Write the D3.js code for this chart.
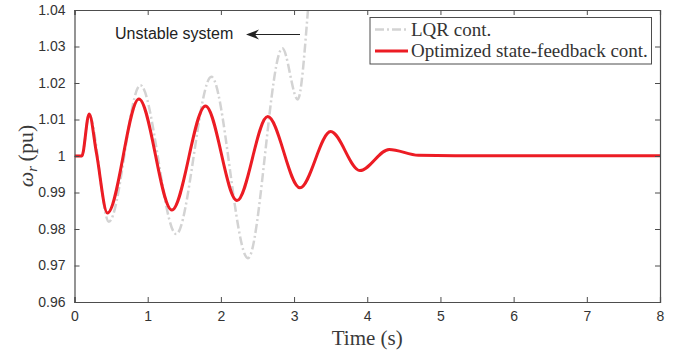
<!DOCTYPE html>
<html>
<head>
<meta charset="utf-8">
<script src="https://cdn.jsdelivr.net/npm/d3@7"></script>
<style>
  body { margin: 0; background: #fff; }
  svg { display: block; }
</style>
</head>
<body>
<div id="chart"></div>
<script>
// ----- data -----
const xTicks = [0, 1, 2, 3, 4, 5, 6, 7, 8];
const yTicks = [0.96, 0.97, 0.98, 0.99, 1, 1.01, 1.02, 1.03, 1.04];

// LQR controller (unstable, leaves the plot near 3.2 s)
const lqrTime  = [0, 0.1, 0.2, 0.47, 0.9, 1.39, 1.87, 2.37, 2.84, 3.05, 3.19, 3.26];
const lqrValue = [1, 1, 1.0113, 0.982, 1.0194, 0.9786, 1.0217, 0.972, 1.0295, 1.0155, 1.04, 1.06];

// optimized state-feedback controller
const optTime  = [0, 0.1, 0.2, 0.3, 0.45, 0.88, 1.33, 1.79, 2.22, 2.64, 3.08, 3.5, 3.9, 4.3, 4.7, 5.2, 8];
const optValue = [1, 1, 1.0115, 1.0008, 0.9844, 1.0156, 0.9852, 1.0137, 0.9878, 1.0108, 0.9913, 1.0067, 0.996, 1.0018, 1.0002, 1.0001, 1.0001];

const seriesNames = ["LQR cont.", "Optimized state-feedback cont."];

// ----- layout -----
const width = 678, height = 356;
const margin = { left: 74.5, right: 18, top: 10, bottom: 54 };
const plotW = width - margin.left - margin.right;
const plotH = height - margin.top - margin.bottom;

const axisColor = "#4d4d4d";
const lqrColor = "#d3d3d3";
const optColor = "#ec1c24";
const serif = "'Liberation Serif', 'Times New Roman', serif";
const sans = "'Liberation Sans', Arial, sans-serif";

const svg = d3.select("#chart").append("svg")
    .attr("width", width)
    .attr("height", height);

const x = d3.scaleLinear().domain([0, 8]).range([margin.left, margin.left + plotW]);
const y = d3.scaleLinear().domain([0.96, 1.04]).range([margin.top + plotH, margin.top]);

svg.append("clipPath").attr("id", "plot-clip")
  .append("rect")
    .attr("x", margin.left).attr("y", margin.top)
    .attr("width", plotW).attr("height", plotH);

// ----- lines -----
const line = d3.line()
    .x(d => x(d[0]))
    .y(d => y(d[1]))
    .curve(d3.curveMonotoneX);

const lqrData = lqrTime.map((t, i) => [t, lqrValue[i]]);
const optData = optTime.map((t, i) => [t, optValue[i]]);

const plot = svg.append("g").attr("clip-path", "url(#plot-clip)");

plot.append("path")
    .datum(lqrData)
    .attr("d", line)
    .attr("fill", "none")
    .attr("stroke", lqrColor)
    .attr("stroke-width", 2.5)
    .attr("stroke-dasharray", "9,3,2,3");

plot.append("path")
    .datum(optData)
    .attr("d", line)
    .attr("fill", "none")
    .attr("stroke", optColor)
    .attr("stroke-width", 3);

// ----- axes (box with inward ticks) -----
const gx = svg.append("g")
    .attr("transform", `translate(0,${margin.top + plotH})`)
    .call(d3.axisBottom(x).tickValues(xTicks).tickSize(-5).tickPadding(9).tickFormat(d3.format("d")));
const gxTop = svg.append("g")
    .attr("transform", `translate(0,${margin.top})`)
    .call(d3.axisTop(x).tickValues(xTicks).tickSize(-5).tickFormat(""));
const gy = svg.append("g")
    .attr("transform", `translate(${margin.left},0)`)
    .call(d3.axisLeft(y).tickValues(yTicks).tickSize(-5).tickPadding(9)
        .tickFormat(d => d === 1 ? "1" : d3.format(".2f")(d)));
const gyRight = svg.append("g")
    .attr("transform", `translate(${margin.left + plotW},0)`)
    .call(d3.axisRight(y).tickValues(yTicks).tickSize(-5).tickFormat(""));

[gx, gxTop, gy, gyRight].forEach(g => {
    g.select(".domain").attr("stroke", axisColor).attr("stroke-width", 1.2);
    g.selectAll(".tick line").attr("stroke", axisColor);
    g.selectAll(".tick text")
        .attr("fill", "#333")
        .style("font-family", sans)
        .style("font-size", "14px");
});

// ----- axis titles -----
svg.append("text")
    .attr("x", x(4))
    .attr("y", 345)
    .attr("text-anchor", "middle")
    .style("font-family", serif)
    .style("font-size", "21px")
    .attr("fill", "#3a3a3a")
    .text("Time (s)");

const yTitle = svg.append("text")
    .attr("transform", `translate(33,${y(1)}) rotate(-90)`)
    .attr("text-anchor", "middle")
    .style("font-family", serif)
    .style("font-size", "22px")
    .attr("fill", "#3a3a3a");
yTitle.append("tspan").style("font-style", "italic").text("ω");
yTitle.append("tspan").style("font-style", "italic").style("font-size", "15px").attr("dy", 4).text("r");
yTitle.append("tspan").attr("dy", -4).text("\u2009(pu)");

// ----- annotation -----
svg.append("text")
    .attr("x", 115)
    .attr("y", 39)
    .style("font-family", sans)
    .style("font-size", "16px")
    .attr("fill", "#222")
    .text("Unstable system");

svg.append("line")
    .attr("x1", 300).attr("y1", 34.5)
    .attr("x2", 252).attr("y2", 34.5)
    .attr("stroke", "#222")
    .attr("stroke-width", 1);
svg.append("path")
    .attr("d", "M246,34.5 L259,29.5 L255,34.5 L259,39.5 Z")
    .attr("fill", "#222");

// ----- legend -----
const legend = svg.append("g");
legend.append("rect")
    .attr("x", 370).attr("y", 17.5)
    .attr("width", 281.5).attr("height", 46.5)
    .attr("fill", "#fff")
    .attr("stroke", axisColor)
    .attr("stroke-width", 1);

const legendStyles = [
    { color: lqrColor, width: 2.5, dash: "9,3,2,3" },
    { color: optColor, width: 3, dash: null }
];
seriesNames.forEach((name, i) => {
    const ly = 29.5 + i * 21.5;
    legend.append("line")
        .attr("x1", 375).attr("x2", 408)
        .attr("y1", ly).attr("y2", ly)
        .attr("stroke", legendStyles[i].color)
        .attr("stroke-width", legendStyles[i].width)
        .attr("stroke-dasharray", legendStyles[i].dash);
    legend.append("text")
        .attr("x", 411)
        .attr("y", ly + 6)
        .style("font-family", serif)
        .style("font-size", "19px")
        .attr("fill", "#333")
        .text(name);
});
</script>
</body>
</html>
